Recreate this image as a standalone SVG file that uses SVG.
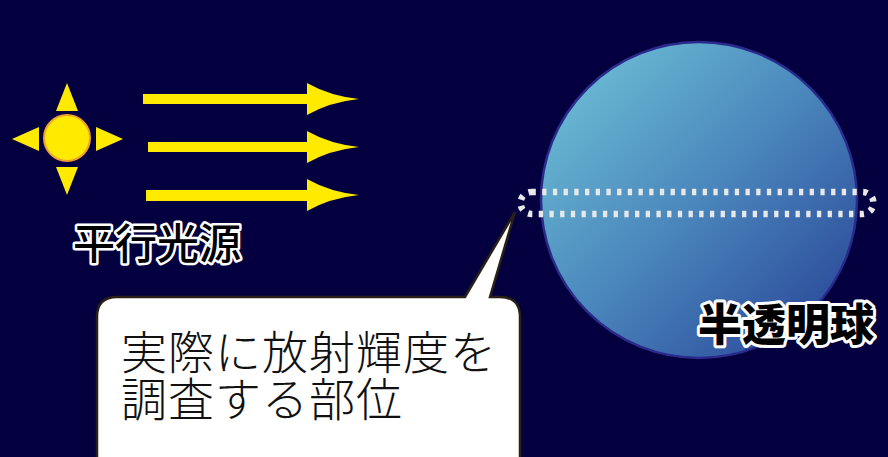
<svg xmlns="http://www.w3.org/2000/svg" width="888" height="457" viewBox="0 0 888 457">
  <defs>
    <linearGradient id="sphereFill" x1="0" y1="0" x2="1" y2="1">
      <stop offset="0" stop-color="#72c8da"/>
      <stop offset="0.5" stop-color="#4a86bc"/>
      <stop offset="1" stop-color="#243c92"/>
    </linearGradient>
    <style>
      .ray { fill: #ffea00; }
      .halo { font-family: "Noto Sans CJK JP", "Noto Sans", sans-serif; fill: #000; stroke: #fff; paint-order: stroke; stroke-linejoin: round; }
      .note { font-family: "Noto Sans CJK JP", "Noto Sans", sans-serif; font-size: 46px; font-weight: 300; fill: #111; letter-spacing: 1px; }
    </style>
  </defs>

  <!-- night sky background -->
  <rect width="888" height="457" fill="#04003f"/>

  <!-- parallel light source: sun with four pointers -->
  <g id="light-source">
    <polygon class="ray" points="67,83 78,111 56,111"/>
    <polygon class="ray" points="67,195 78,167 56,167"/>
    <polygon class="ray" points="12,139 39,127 39,151"/>
    <polygon class="ray" points="123,139 96,127 96,151"/>
    <circle cx="67" cy="138" r="23" fill="#ffea00" stroke="#f0a030" stroke-width="2"/>
  </g>

  <!-- parallel rays -->
  <g id="rays">
    <path class="ray" d="M143,94 H307 V83 Q330,96 359,99 Q330,102 307,115 V104 H143 Z"/>
    <path class="ray" d="M148,142 H307 V131 Q330,144 359,147 Q330,150 307,163 V152 H148 Z"/>
    <path class="ray" d="M146,190 H307 V179 Q330,192 359,195 Q330,198 307,211 V201 H146 Z"/>
  </g>

  <g id="light-label">
    <text class="halo" x="73" y="259" font-size="42" font-weight="500" stroke-width="5">平行光源</text>
  </g>

  <!-- translucent sphere -->
  <g id="sphere">
    <circle cx="699" cy="200" r="158" fill="url(#sphereFill)" stroke="#2a2a8c" stroke-width="2.5"/>
  </g>

  <!-- measured band across the sphere -->
  <g id="band">
    <rect x="520.5" y="192" width="353" height="22" rx="11" fill="none" stroke="#e8e8e8" stroke-width="6.5" stroke-dasharray="4.3 6.4"/>
  </g>

  <g id="sphere-label">
    <text class="halo" x="698" y="341" font-size="44" font-weight="900" stroke-width="6">半透明球</text>
  </g>

  <!-- speech balloon pointing at the band -->
  <g id="callout">
    <path d="M117,297 H465 L515,212 L490,297 H500 Q520,297 520,317 V480 H97 V317 Q97,297 117,297 Z" fill="#fff" stroke="#2a2018" stroke-width="2.5" stroke-linejoin="miter"/>
    <text class="note" x="121" y="369">実際に放射輝度を</text>
    <text class="note" x="121" y="416">調査する部位</text>
  </g>
</svg>
